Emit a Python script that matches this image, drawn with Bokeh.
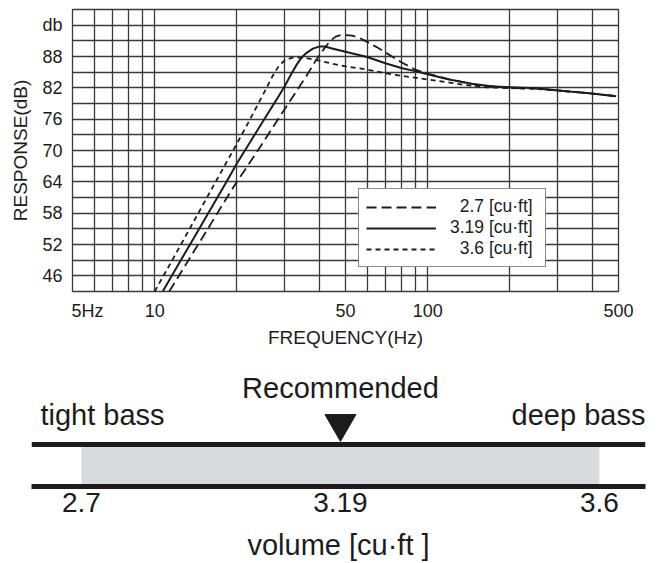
from bokeh.plotting import figure
from bokeh.models import FixedTicker, Span, Range1d
from bokeh.core.properties import value
from bokeh.embed import file_html
from bokeh.resources import INLINE

FONT = "Liberation Sans"
INK = "#1c1c1c"
GRID = "#3a3a3a"

# ---- response curves (frequency in Hz, response in dB) ----
freq_27 = [11.3, 12, 14, 16, 18, 20, 22, 25, 28, 30, 33, 36, 39, 42, 44, 46, 48, 50,
           53, 56, 60, 65, 70, 75, 80, 90, 100, 120, 150, 200, 250, 300, 400, 490]
db_27 = [43.0, 45.2, 50.9, 55.8, 60.2, 64.0, 67.2, 71.6, 75.6, 78.0, 81.3, 84.3, 87.3, 89.7,
         91.0, 91.8, 92.1, 92.1, 92.0, 91.6, 90.8, 89.8, 88.8, 87.8, 86.9, 85.5, 84.7, 83.6,
         82.6, 82.0, 81.85, 81.5, 80.9, 80.4]

freq_319 = [10.7, 12, 14, 16, 18, 20, 22, 25, 28, 29, 30, 31, 32, 33, 34, 35, 36, 38, 40, 42,
            45, 50, 55, 60, 70, 80, 90, 100, 120, 145, 170, 200, 250, 300, 400, 490]
db_319 = [43.0, 47.5, 53.5, 58.7, 63.3, 67.5, 71.0, 75.7, 79.8, 81.1, 82.4, 83.8, 85.1, 86.3,
          87.3, 88.1, 88.7, 89.5, 89.9, 89.9, 89.5, 88.9, 88.4, 87.9, 86.7, 85.8, 85.2, 84.6,
          83.6, 82.8, 82.3, 82.1, 81.9, 81.5, 80.9, 80.4]

freq_36 = [10.0, 12, 14, 16, 18, 20, 22, 25, 27, 28.5, 30, 32, 34, 36, 40, 45, 50, 60, 70, 80,
           100, 120, 135, 165, 200, 250, 300, 400, 490]
db_36 = [43.0, 50.4, 56.7, 62.2, 67.0, 71.3, 75.3, 80.8, 84.2, 86.2, 87.3, 87.8, 87.8, 87.7,
         87.2, 86.6, 86.1, 85.5, 84.8, 84.3, 83.6, 83.0, 82.6, 82.1, 81.95, 81.8, 81.5, 80.9, 80.4]

series_labels = ["\u20072.7 [cu\u00b7ft]", "3.19 [cu\u00b7ft]", "\u20073.6 [cu\u00b7ft]"]

# ---- axes ----
freq_major = [5, 10, 50, 100, 500]
freq_major_labels = ["\u2007\u2007\u20075Hz", "10", "50", "100", "500"]
freq_minor = [6, 7, 8, 9, 20, 30, 40, 60, 70, 80, 90, 200, 300, 400]
db_major = [46, 52, 58, 64, 70, 76, 82, 88, 94]
db_major_labels = ["46", "52", "58", "64", "70", "76", "82", "88", "db"]
db_minor = [43, 49, 55, 61, 67, 73, 79, 85, 91, 97]

# ---- volume scale ----
volumes = [2.7, 3.19, 3.6]
volume_labels = ["2.7", "3.19", "3.6"]
recommended_volume = 3.19
range_labels = ["tight bass", "deep bass"]
recommended_label = "Recommended"

# ================= response chart =================
p1 = figure(width=667, height=360, x_axis_type="log",
            x_range=Range1d(freq_major[0], freq_major[-1]),
            y_range=Range1d(db_minor[0], db_minor[-1]),
            toolbar_location=None, output_backend="svg",
            min_border_left=72, min_border_right=49, min_border_top=9, min_border_bottom=69)
p1.background_fill_color = "white"
p1.border_fill_color = "white"
p1.outline_line_color = GRID
p1.outline_line_width = 1.3

xt = FixedTicker(ticks=freq_major, minor_ticks=freq_minor)
yt = FixedTicker(ticks=db_major, minor_ticks=db_minor)
p1.xaxis.ticker = xt
p1.yaxis.ticker = yt
p1.xgrid.ticker = xt
p1.ygrid.ticker = yt
for g in (p1.xgrid, p1.ygrid):
    g.grid_line_color = GRID
    g.grid_line_width = 1.3
    g.minor_grid_line_color = GRID
    g.minor_grid_line_width = 1.3

p1.xaxis.major_label_overrides = {f: l for f, l in zip(freq_major, freq_major_labels)}
p1.yaxis.major_label_overrides = {d: l for d, l in zip(db_major, db_major_labels)}

for ax in (p1.xaxis[0], p1.yaxis[0]):
    ax.axis_line_color = None
    ax.major_tick_out = 0
    ax.major_tick_in = 0
    ax.minor_tick_out = 0
    ax.minor_tick_in = 0
    ax.major_label_text_font = FONT
    ax.major_label_text_font_size = "18px"
    ax.major_label_text_color = INK
    ax.axis_label_text_font = FONT
    ax.axis_label_text_font_size = "19px"
    ax.axis_label_text_font_style = "normal"
    ax.axis_label_text_color = INK

p1.xaxis.axis_label = "FREQUENCY(Hz)"
p1.yaxis.axis_label = "RESPONSE(dB)"
p1.xaxis.major_label_standoff = 9
p1.yaxis.major_label_standoff = 10
p1.xaxis.axis_label_standoff = 3
p1.yaxis.axis_label_standoff = 8

p1.line(freq_27, db_27, line_color=INK, line_width=1.8, line_dash="10 5",
        legend_label=series_labels[0])
p1.line(freq_319, db_319, line_color=INK, line_width=2.0, line_join="round",
        legend_label=series_labels[1])
p1.line(freq_36, db_36, line_color=INK, line_width=1.8, line_dash="5 4",
        legend_label=series_labels[2])

lg = p1.legend[0]
lg.location = (286, 24)
lg.margin = 0
lg.padding = 7
lg.spacing = 0
lg.glyph_width = 70
lg.glyph_height = 20
lg.label_height = 20
lg.label_width = 88
lg.label_standoff = 14
lg.label_text_font = FONT
lg.label_text_font_size = "17.5px"
lg.label_text_color = INK
lg.border_line_color = INK
lg.border_line_width = 1.5
lg.background_fill_color = "white"
lg.background_fill_alpha = 1.0

# ================= volume scale =================
pos = list(range(len(volumes)))
rec_pos = volumes.index(recommended_volume)

p2 = figure(width=667, height=203, x_range=Range1d(-0.193, 2.178), y_range=Range1d(0, 3),
            y_axis_location=None, toolbar_location=None, output_backend="svg",
            min_border_left=31, min_border_right=22, min_border_top=0, min_border_bottom=77)
p2.grid.visible = False
p2.outline_line_color = None
p2.background_fill_color = "white"
p2.border_fill_color = "white"

p2.quad(left=[pos[0]], right=[pos[-1]], bottom=[0], top=[1],
        fill_color="#d7dadf", line_color=None)
p2.add_layout(Span(location=1, dimension="width", line_color=INK, line_width=5))
p2.scatter(x=[rec_pos], y=[1.5], marker="inverted_triangle", size=31,
           fill_color=INK, line_color=INK)

p2.text(x=[rec_pos], y=[2.34], text=[recommended_label], text_align="center",
        text_baseline="alphabetic", text_font=value(FONT), text_font_size="29px",
        text_color=INK)
p2.text(x=[pos[0]], y=[1.70], text=[range_labels[0]], x_offset=-41, text_align="left",
        text_baseline="alphabetic", text_font=value(FONT), text_font_size="29px",
        text_color=INK)
p2.text(x=[pos[-1]], y=[1.70], text=[range_labels[1]], x_offset=46, text_align="right",
        text_baseline="alphabetic", text_font=value(FONT), text_font_size="29px",
        text_color=INK)

bx = p2.xaxis[0]
bx.ticker = FixedTicker(ticks=pos)
bx.major_label_overrides = {p: l for p, l in zip(pos, volume_labels)}
bx.axis_line_color = INK
bx.axis_line_width = 5
bx.major_tick_out = 0
bx.major_tick_in = 0
bx.minor_tick_out = 0
bx.minor_tick_in = 0
bx.major_label_standoff = 6
bx.major_label_text_font = FONT
bx.major_label_text_font_size = "28px"
bx.major_label_text_color = INK
bx.axis_label = "volume [cu\u00b7ft ]"
bx.axis_label_standoff = 14
bx.axis_label_text_font = FONT
bx.axis_label_text_font_size = "29px"
bx.axis_label_text_font_style = "normal"
bx.axis_label_text_color = INK

open("out.html", "w").write(file_html([p1, p2], INLINE))
